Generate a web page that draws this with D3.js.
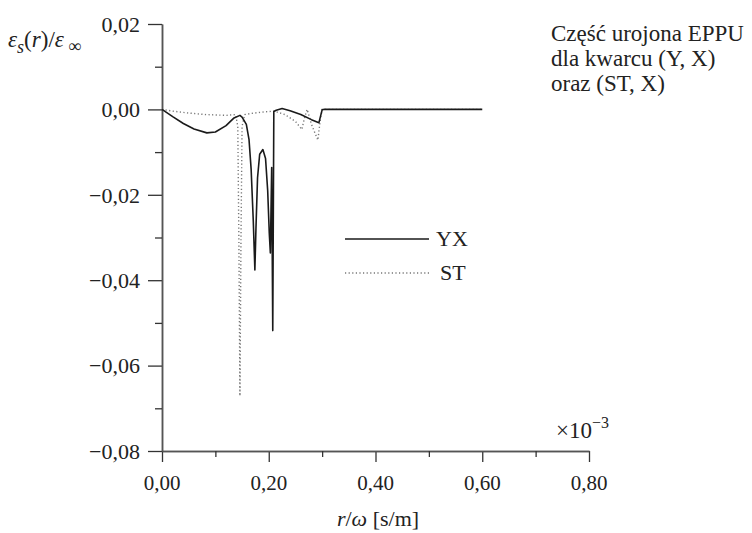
<!DOCTYPE html>
<html><head><meta charset="utf-8">
<script src="https://cdn.jsdelivr.net/npm/d3@7"></script>
<style>
body{margin:0;background:#fff;}
svg text, svg tspan{font-family:"Liberation Serif","Times New Roman",serif !important;fill:#222;}
</style></head><body>
<svg id="c" width="752" height="533" font-family="Liberation Serif, serif"></svg>
<script>
// data (x in units of 1e-3 s/m)
const xTicks = [0, 0.2, 0.4, 0.6, 0.8];
const xTickLabels = ["0,00", "0,20", "0,40", "0,60", "0,80"];
const yTicks = [0.02, 0.00, -0.02, -0.04, -0.06, -0.08];
const yTickLabels = ["0,02", "0,00", "\u22120,02", "\u22120,04", "\u22120,06", "\u22120,08"];
const seriesNames = ["YX", "ST"];
const yxX = [0, 0.02, 0.04, 0.06, 0.084, 0.10, 0.12, 0.135, 0.146, 0.150, 0.158, 0.163, 0.167, 0.171, 0.174, 0.176, 0.179, 0.183, 0.189, 0.194, 0.198, 0.201, 0.203, 0.2055, 0.2075, 0.2095, 0.214, 0.225, 0.24, 0.26, 0.28, 0.294, 0.300, 0.303, 0.6];
const yxY = [0, -0.0017, -0.0033, -0.0046, -0.0055, -0.0053, -0.0038, -0.0020, -0.0014, -0.0018, -0.0035, -0.007, -0.014, -0.026, -0.0376, -0.028, -0.016, -0.0105, -0.0094, -0.0115, -0.019, -0.029, -0.0336, -0.0136, -0.0518, -0.0005, -0.0002, 0.0002, -0.0003, -0.0012, -0.0024, -0.0031, -0.0001, 0, 0];
const stX = [0, 0.02, 0.046, 0.08, 0.12, 0.138, 0.142, 0.144, 0.146, 0.148, 0.150, 0.155, 0.17, 0.19, 0.21, 0.23, 0.25, 0.262, 0.267, 0.272, 0.28, 0.292, 0.296, 0.300, 0.6];
const stY = [0, -0.0004, -0.0008, -0.0012, -0.0014, -0.0012, -0.004, -0.03, -0.0671, -0.03, -0.004, -0.0012, -0.0009, -0.0006, -0.0004, -0.0012, -0.0028, -0.0047, -0.002, 0, -0.0035, -0.0072, -0.003, 0, 0];

const FONT = "Liberation Serif, Times New Roman, serif";
const svg = d3.select("#c");
const x = d3.scaleLinear().domain([0, 0.8]).range([162, 589]);
const y = d3.scaleLinear().domain([-0.08, 0.02]).range([451, 24]);
const axisColor = "#555";

// x axis
const gx = svg.append("g").attr("transform", `translate(0,${y(-0.08)})`);
gx.call(d3.axisBottom(x).tickValues(xTicks).tickSize(11).tickSizeOuter(0).tickFormat(""));
gx.append("g").call(d3.axisBottom(x).tickValues([0.1, 0.3, 0.5, 0.7]).tickSize(6).tickSizeOuter(0).tickFormat(""));
gx.selectAll(".domain").attr("stroke", axisColor).attr("stroke-width", 1.5);
gx.selectAll(".tick line").attr("stroke", "#333").attr("stroke-width", 1.3);
gx.attr("font-family", FONT);
gx.selectAll(".xl").data(xTicks).enter().append("text")
  .attr("x", d => x(d)).attr("y", 39).attr("text-anchor", "middle").attr("font-family", FONT)
  .style("font-size", "21px").text((d, i) => xTickLabels[i]);

// y axis
const gy = svg.append("g").attr("transform", `translate(${x(0)},0)`);
gy.call(d3.axisLeft(y).tickValues(yTicks).tickSize(14).tickSizeOuter(0).tickFormat(""));
gy.append("g").call(d3.axisLeft(y).tickValues([0.01, -0.01, -0.03, -0.05, -0.07]).tickSize(7).tickSizeOuter(0).tickFormat(""));
gy.selectAll(".domain").attr("stroke", axisColor).attr("stroke-width", 1.5);
gy.selectAll(".tick line").attr("stroke", "#333").attr("stroke-width", 1.3);
gy.attr("font-family", FONT);
gy.selectAll(".yl").data(yTicks).enter().append("text")
  .attr("x", -22).attr("y", d => y(d)).attr("dy", "0.35em").attr("text-anchor", "end").attr("font-family", FONT)
  .style("font-size", "22px").text((d, i) => yTickLabels[i]);

// lines
const line = d3.line().x(d => x(d[0])).y(d => y(d[1]));
const stData = stX.map((v, i) => [v, stY[i]]);
const yxData = yxX.map((v, i) => [v, yxY[i]]);
svg.append("path").datum(stData).attr("d", line).attr("fill", "none")
  .attr("stroke", "#777").attr("stroke-width", 1.4).attr("stroke-dasharray", "1.2,2.4");
svg.append("path").datum(yxData).attr("d", line).attr("fill", "none")
  .attr("stroke", "#1a1a1a").attr("stroke-width", 1.6).attr("stroke-linejoin", "round");

// legend
svg.append("line").attr("x1", 345).attr("x2", 429).attr("y1", 239).attr("y2", 239)
  .attr("stroke", "#1a1a1a").attr("stroke-width", 1.6);
svg.append("text").attr("x", 436).attr("y", 246).attr("font-family", FONT).style("font-size", "22px").text(seriesNames[0]);
svg.append("line").attr("x1", 345).attr("x2", 430).attr("y1", 273).attr("y2", 273)
  .attr("stroke", "#777").attr("stroke-width", 1.4).attr("stroke-dasharray", "1.2,2.4");
svg.append("text").attr("x", 440).attr("y", 280).attr("font-family", FONT).style("font-size", "22px").text(seriesNames[1]);

// y label
const yl = svg.append("text").attr("x", 8).attr("y", 47).attr("font-family", FONT).style("font-size", "23px");
yl.append("tspan").style("font-style", "italic").text("\u03b5");
yl.append("tspan").style("font-style", "italic").style("font-size", "18px").attr("dy", 6).text("s");
yl.append("tspan").attr("dy", -6).text("(");
yl.append("tspan").style("font-style", "italic").text("r");
yl.append("tspan").text(")/");
yl.append("tspan").style("font-style", "italic").text("\u03b5");
yl.append("tspan").style("font-size", "18px").attr("dy", 5).text(" \u221e");

// x label
const xl = svg.append("text").attr("x", 378).attr("y", 526).attr("text-anchor", "middle").attr("font-family", FONT).style("font-size", "22px");
xl.append("tspan").style("font-style", "italic").text("r");
xl.append("tspan").text("/");
xl.append("tspan").style("font-style", "italic").text("\u03c9");
xl.append("tspan").text(" [s/m]");

// exponent
const ex = svg.append("text").attr("x", 556).attr("y", 438).attr("font-family", FONT).style("font-size", "23px");
ex.append("tspan").text("\u00d710");
ex.append("tspan").style("font-size", "16px").attr("dy", -10).text("\u22123");

// annotation
const notes = ["Część urojona EPPU", "dla kwarcu (Y, X)", "oraz (ST, X)"];
svg.selectAll(".note").data(notes).enter().append("text")
  .attr("x", 551).attr("y", (d, i) => 41 + i * 25).attr("font-family", FONT).style("font-size", "23px").text(d => d);
</script></body></html>
